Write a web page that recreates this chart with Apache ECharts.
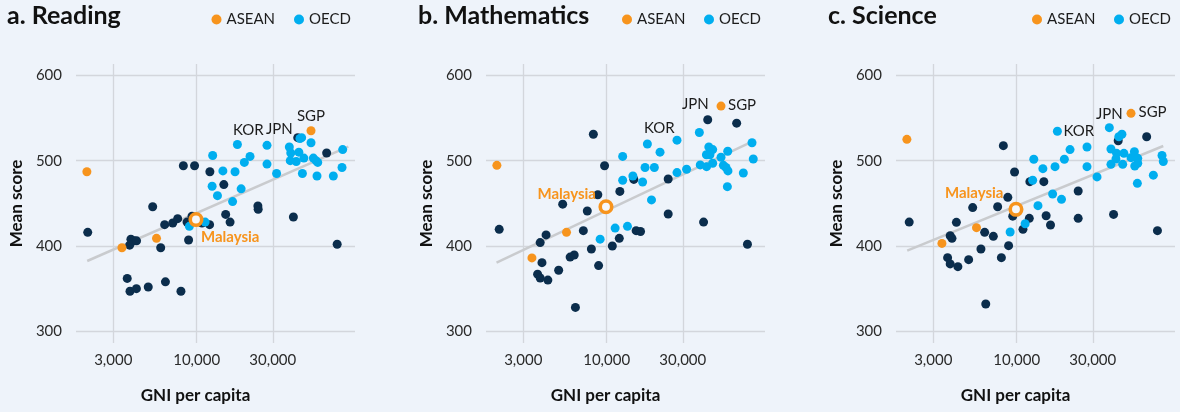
<!DOCTYPE html>
<html>
<head>
<meta charset="utf-8">
<script src="https://cdn.jsdelivr.net/npm/echarts@6/dist/echarts.min.js"></script>
<style>
  html, body { margin: 0; padding: 0; background: #eef3fa; }
  #chart { width: 1180px; height: 412px; }
</style>
</head>
<body>
<div id="chart"></div>
<script>
// Axis ticks and labels
const xTickValues = [3000, 10000, 30000];
const xTickLabels = ['3,000', '10,000', '30,000'];
const yTickValues = [300, 400, 500, 600];
const xRange = [1752, 98300];   // GNI per capita shown on the log axis
const yRange = [286.3, 613.3];  // mean score shown on the vertical axis

const panelTitles = ['a. Reading', 'b. Mathematics', 'c. Science'];

// Each point: [GNI per capita, mean score, optional country label]
const readingASEAN = [[9900, 431, 'Malaysia'], [52100, 535, 'SGP'], [2050, 487], [3400, 398], [5600, 409]];
const readingOECD = [
  [18000, 519, 'KOR'], [38100, 516, 'JPN'], [27600, 518], [12600, 506], [21600, 505], [19900, 498],
  [27600, 496], [14600, 488], [17400, 487], [31700, 485], [12500, 470], [19000, 467], [13500, 459],
  [16800, 452], [9000, 423], [11300, 428], [38900, 509], [44400, 526], [45500, 527], [52100, 521],
  [43700, 510], [47000, 503], [38600, 500], [42100, 499], [53900, 503], [56000, 500], [57400, 498],
  [46000, 485], [56800, 482], [71900, 482], [82300, 513], [81500, 492]
];
const readingOther = [
  [2075, 416], [5300, 446], [8250, 494], [9700, 494], [12100, 487], [14800, 472], [6300, 425],
  [7080, 427], [7600, 432], [8700, 428], [9350, 435], [10800, 427], [12050, 425], [15200, 437],
  [16200, 428], [24200, 447], [24300, 443], [40400, 434], [65300, 509], [43000, 527], [76000, 402],
  [3870, 408], [4050, 406], [3800, 401], [4200, 406], [5950, 398], [8900, 407], [3670, 362],
  [3820, 347], [4190, 350], [4970, 352], [6370, 358], [7970, 347]
];
const readingTrend = [[2060, 382.4], [89300, 516.4]];

const mathASEAN = [[9900, 446, 'Malaysia'], [52100, 564, 'SGP'], [2050, 494.5], [3400, 386], [5600, 416]];
const mathOECD = [
  [18000, 519.5, 'KOR'], [38100, 533, 'JPN'], [27600, 524], [12600, 505], [21600, 510], [17400, 492],
  [19900, 492], [14600, 482], [12600, 477], [16800, 475], [27600, 486], [31700, 490], [19100, 454],
  [11300, 421], [13500, 423], [9100, 408], [43700, 516], [46200, 513], [42200, 507], [44400, 507],
  [52100, 504], [57400, 511], [38600, 495], [42300, 493], [46200, 497], [53900, 494.5], [56000, 492],
  [57600, 488], [71900, 485.5], [57100, 469.5], [81500, 521], [83000, 502]
];
const mathOther = [
  [2120, 419.5], [8250, 531], [9700, 494], [14800, 478], [12100, 464], [24300, 478.5], [8800, 460],
  [5300, 449], [7560, 441], [9550, 445], [24300, 437.5], [40500, 428], [43000, 548], [65300, 544],
  [7140, 418], [4170, 413], [3830, 404], [12000, 409], [10850, 400], [8020, 396.5], [15300, 418],
  [16300, 417], [76300, 402], [3930, 380.5], [5000, 371.5], [5900, 387], [6260, 389.5], [8900, 377],
  [3690, 367], [3830, 362.5], [4280, 360], [6370, 328]
];
const mathTrend = [[2040, 380.5], [81000, 522]];

const scienceASEAN = [[9900, 443, 'Malaysia'], [52100, 555.5, 'SGP'], [2050, 525], [3400, 403], [5600, 421.5]];
const scienceOECD = [
  [18000, 534.5, 'KOR'], [38100, 538.7, 'JPN'], [43700, 528], [45700, 531], [12800, 501.6], [21600, 513],
  [27600, 516], [19900, 501.6], [14600, 490.6], [17400, 493], [27600, 493], [31900, 481], [12600, 477],
  [16800, 461], [19100, 454.7], [13600, 447.3], [11300, 426], [9100, 416.4], [39000, 513.7],
  [42300, 508.6], [47000, 508.6], [54700, 510.5], [41900, 502], [52100, 503.5], [57400, 502.7],
  [39000, 495.7], [46200, 495.7], [55000, 493.8], [57400, 497], [71900, 483], [57100, 473.4],
  [81500, 506], [83000, 499]
];
const scienceOther = [
  [2120, 428], [8250, 517.6], [9700, 486.7], [12100, 475.4], [14800, 475.4], [24300, 464.5],
  [43300, 523.4], [65300, 528], [40500, 437], [24300, 432.4], [76300, 418], [5300, 445], [7600, 446],
  [8800, 457], [9450, 435], [4190, 427.7], [12000, 432.4], [15300, 435.5], [16300, 424.6],
  [10950, 419.5], [6300, 416], [7140, 411.3], [3830, 412], [3930, 409], [5970, 396.5], [8900, 400.4],
  [8020, 386.3], [5000, 384], [3690, 386.3], [3830, 379], [4280, 375.8], [6400, 332]
];
const scienceTrend = [[2060, 394.5], [83000, 517.2]];

const COLORS = {
  asean: '#f7941d', oecd: '#00aeef', other: '#0b2d4c',
  grid: '#d3d6dc', trend: '#c9cbce', text: '#2a2a2a', title: '#111111', bg: '#eef3fa'
};
const FONT = 'Lato, "Noto Sans", sans-serif';
const lx = v => Math.log10(v);

// Layout and label placement for each panel
const panels = [
  {
    title: panelTitles[0], asean: readingASEAN, oecd: readingOECD, other: readingOther, trend: readingTrend,
    left: 76, titleLeft: 7, legendLeft: [211.5, 294],
    labels: {
      Malaysia: { align: 'left', offset: [5, 18] },
      SGP: { align: 'center', offset: [0, -15] },
      KOR: { align: 'center', offset: [11, -14] },
      JPN: { align: 'center', offset: [-10, -18] }
    }
  },
  {
    title: panelTitles[1], asean: mathASEAN, oecd: mathOECD, other: mathOther, trend: mathTrend,
    left: 486, titleLeft: 418, legendLeft: [622, 704],
    labels: {
      Malaysia: { align: 'right', offset: [-10, -13] },
      SGP: { align: 'left', offset: [7, -1] },
      KOR: { align: 'center', offset: [12, -16] },
      JPN: { align: 'center', offset: [-4, -28] }
    }
  },
  {
    title: panelTitles[2], asean: scienceASEAN, oecd: scienceOECD, other: scienceOther, trend: scienceTrend,
    left: 896, titleLeft: 828, legendLeft: [1032, 1114],
    labels: {
      Malaysia: { align: 'right', offset: [-12.5, -16] },
      SGP: { align: 'left', offset: [7.5, -1.5] },
      KOR: { align: 'left', offset: [6, 0] },
      JPN: { align: 'center', offset: [0, -13] }
    }
  }
];

function toItems(points, labelSpec) {
  return points.map(p => {
    const item = { value: [lx(p[0]), p[1]] };
    const name = p[2];
    if (name) {
      item.name = name;
      const spec = labelSpec[name] || {};
      const isMalaysia = name === 'Malaysia';
      item.label = {
        show: true,
        formatter: name,
        position: 'inside',
        align: spec.align || 'center',
        verticalAlign: 'middle',
        offset: spec.offset || [0, 0],
        fontFamily: FONT,
        fontSize: 15,
        fontWeight: isMalaysia ? 'bold' : 'normal',
        color: isMalaysia ? COLORS.asean : '#1c1c1c',
        textBorderWidth: 0
      };
      if (isMalaysia) {
        item.symbolSize = 11.5;
        item.itemStyle = { color: '#f6f8fb', borderColor: COLORS.asean, borderWidth: 3.6 };
      }
    }
    return item;
  });
}

const option = {
  backgroundColor: COLORS.bg,
  animation: false,
  title: [], legend: [], grid: [], xAxis: [], yAxis: [], series: []
};

const xTicksLog = xTickValues.map(lx);

panels.forEach((p, i) => {
  option.title.push({
    text: p.title, left: p.titleLeft, top: 3, padding: 0,
    textStyle: { fontFamily: FONT, fontSize: 25, fontWeight: 'bold', color: COLORS.title }
  });
  ['ASEAN', 'OECD'].forEach((nm, k) => {
    option.legend.push({
      data: [nm], left: p.legendLeft[k], top: 12, padding: 0, itemGap: 0,
      icon: 'circle', itemWidth: 10, itemHeight: 10, selectedMode: false,
      textStyle: { fontFamily: FONT, fontSize: 15, color: '#1c1c1c' }
    });
  });
  option.grid.push({
    left: p.left, top: 64, width: 279, height: 279,
    containLabel: false, outerBoundsMode: 'none'
  });
  option.xAxis.push({
    gridIndex: i, type: 'value', min: lx(xRange[0]), max: lx(xRange[1]),
    axisLine: { show: false },
    axisTick: { show: false, customValues: xTicksLog },
    axisLabel: {
      customValues: xTicksLog, margin: 10, fontFamily: FONT, fontSize: 15, color: COLORS.text,
      formatter: v => {
        const idx = xTicksLog.findIndex(t => Math.abs(t - v) < 1e-6);
        return idx >= 0 ? xTickLabels[idx] : '';
      }
    },
    splitLine: { show: true, lineStyle: { color: COLORS.grid, width: 1.3 } },
    name: 'GNI per capita', nameLocation: 'middle', nameGap: 44,
    nameTextStyle: { fontFamily: FONT, fontSize: 17, fontWeight: 'bold', color: COLORS.title, padding: [0, 40, 0, 0] }
  });
  option.yAxis.push({
    gridIndex: i, type: 'value', min: yRange[0], max: yRange[1],
    axisLine: { show: false },
    axisTick: { show: false, customValues: yTickValues },
    axisLabel: { customValues: yTickValues, margin: 14, fontFamily: FONT, fontSize: 15, color: COLORS.text },
    splitLine: { show: true, lineStyle: { color: COLORS.grid, width: 1.3 } },
    name: 'Mean score', nameLocation: 'middle', nameGap: 51,
    nameTextStyle: { fontFamily: FONT, fontSize: 17, fontWeight: 'bold', color: COLORS.title }
  });

  option.series.push({
    type: 'line', xAxisIndex: i, yAxisIndex: i, silent: true, z: 1,
    data: p.trend.map(t => [lx(t[0]), t[1]]),
    symbol: 'none', lineStyle: { color: COLORS.trend, width: 2.5 }
  });
  option.series.push({
    name: 'Other', type: 'scatter', xAxisIndex: i, yAxisIndex: i, z: 2,
    symbolSize: 9, itemStyle: { color: COLORS.other, opacity: 1 },
    emphasis: { disabled: true },
    data: toItems(p.other, p.labels)
  });
  option.series.push({
    name: 'OECD', type: 'scatter', xAxisIndex: i, yAxisIndex: i, z: 3,
    symbolSize: 9, itemStyle: { color: COLORS.oecd, opacity: 1 },
    emphasis: { disabled: true },
    data: toItems(p.oecd, p.labels)
  });
  option.series.push({
    name: 'ASEAN', type: 'scatter', xAxisIndex: i, yAxisIndex: i, z: 4,
    symbolSize: 9, itemStyle: { color: COLORS.asean, opacity: 1 },
    emphasis: { disabled: true },
    data: toItems(p.asean, p.labels)
  });
});

const chart = echarts.init(document.getElementById('chart'), null, { renderer: 'canvas' });
chart.setOption(option);
</script>
</body>
</html>
